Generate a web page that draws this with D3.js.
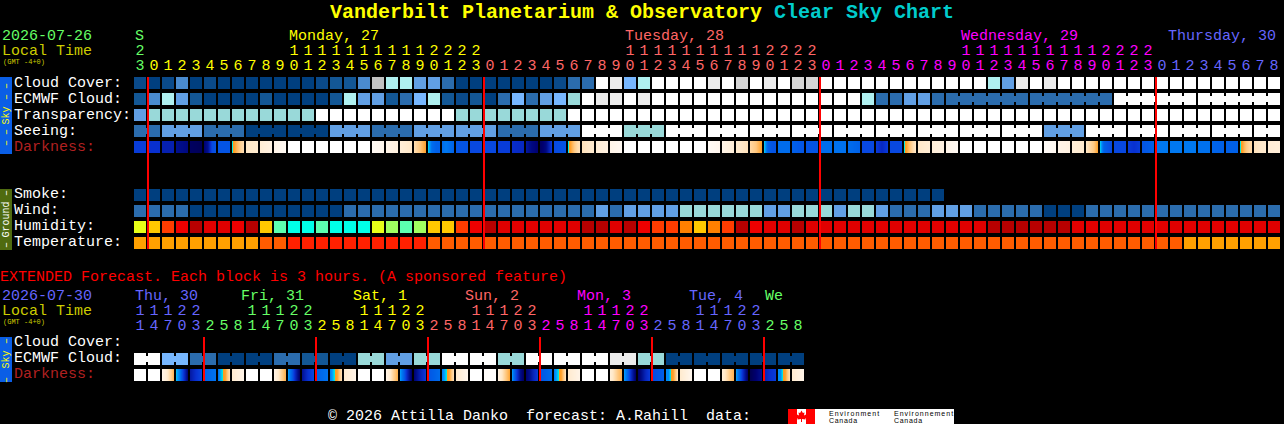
<!DOCTYPE html>
<html><head><meta charset="utf-8">
<script src="https://cdn.jsdelivr.net/npm/d3@7/dist/d3.min.js"></script>
<style>
html,body{margin:0;padding:0;background:#000;overflow:hidden}
svg{display:block}
text{font-family:"Liberation Mono",monospace;font-size:15px;white-space:pre}
rect{shape-rendering:crispEdges}
</style></head><body>
<script>
// ---------- categories and tick labels ----------
const skyRows = ["Cloud Cover:","ECMWF Cloud:","Transparency:","Seeing:","Darkness:"];
const groundRows = ["Smoke:","Wind:","Humidity:","Temperature:"];
const extRows = ["Cloud Cover:","ECMWF Cloud:","Darkness:"];
const hours = [23,0,1,2,3,4,5,6,7,8,9,10,11,12,13,14,15,16,17,18,19,20,21,22,23,
  0,1,2,3,4,5,6,7,8,9,10,11,12,13,14,15,16,17,18,19,20,21,22,23,
  0,1,2,3,4,5,6,7,8,9,10,11,12,13,14,15,16,17,18,19,20,21,22,23,
  0,1,2,3,4,5,6,7,8];
const dayNames = ["S","Monday, 27","Tuesday, 28","Wednesday, 29","Thursday, 30"];
const dayNameCols = [0,11,35,59,73.79];
const extHours = [11,14,17,20,23,2,5,8,11,14,17,20,23,2,5,8,11,14,17,20,23,2,5,8,11,14,17,20,23,2,5,8,11,14,17,20,23,2,5,8,11,14,17,20,23,2,5,8];
const extDayNames = ["Thu, 30","Fri, 31","Sat, 1","Sun, 2","Mon, 3","Tue, 4","We"];
const extDayCols = [0,7.57,15.57,23.57,31.57,39.57,45];

// ---------- series (cloud-style percent levels) ----------
const cloud = [95,100,95,70,100,95,100,100,100,100,100,100,100,95,90,90,70,20,30,30,60,
  60,80,100,100,100,100,100,100,100,95,80,80,0,10,50,30,0,0,0,0,10,0,15,0,10,0,15,15,0,0,0,
  0,0,0,0,0,0,0,0,0,30,60,10,0,10,0,0,0,0,0,0,0,0,0,0,0,0,0,0,0,0];
const ecmwf = [90,70,30,60,90,100,100,100,100,90,100,100,100,100,90,30,60,60,90,80,50,
  30,90,95,90,100,80,50,80,60,50,40,0,10,10,0,10,0,0,0,0,0,0,0,0,0,0,0,0,0,0,0,
  30,80,80,60,60,80,80,80,80,80,80,80,80,80,80,80,80,80,0,0,0,0,0,0,0,0,0,0,0,0];
const transparency = [60,40,40,40,40,40,40,40,40,40,40,40,40,0,0,0,0,0,0,0,0,0,0,
  40,40,40,40,40,40,40,40,0,0,0,0,0,0,0,0,0,0,0,0,0,0,0,0,0,0,0,0,0,0,0,0,0,0,0,0,0,0,
  0,0,0,0,0,0,0,0,0,0,0,0,0,0,0,0,0,0,0,0,0];
const seeing = [80,80,60,60,60,80,80,80,100,100,100,100,100,100,60,60,60,80,80,80,60,60,60,
  60,60,60,80,80,80,60,60,60,0,0,0,40,40,40,0,0,0,0,0,0,0,0,0,0,0,0,0,0,0,0,0,0,0,0,0,0,0,0,0,0,0,
  60,60,60,0,0,0,0,0,0,0,0,0,0,0,0,0,0];
// darkness: each block lists its values left to right (0 bright day ... 13 darkest night)
const darkness = [[8.5,8.5],[9,9],[10,10],[11,11.5],[12.5,12.8],[12,11,8,7.5],[7.5,7.5],[4.1,3.9,3.4,3,2.6,2.3],
  [2,1.8],[1.6,1.2],[1,0.5],[0,0],[0,0],[0,0],[0,0],[0,0],[0,0],[0.5,0.8],[1,1.3],[1.5,2],[2.3,3,3.9],
  [4.2,6.5,7,7],[6.5,6,6.5,7],[7.5,7.5],[8,8],[8,8],[8.5,8.5],[9.2,9.5],[10.5,11.5,12],[12.5,11.5,8.5],[8,7.5],
  [4.1,3.9,3.3,2.8,2.4,2.2],[2.2,1.8],[1.6,1.2],[1,0.6],[0,0],[0,0],[0,0],[0,0],[0,0],[0,0],[0.4,0.8],[1,1.5],[1.8,2.2],[2.5,3,3.9],
  [4.2,7,7.5,7.5],[6.5,6.5],[7,7.5],[7.5,7.5],[6.5,6.5],[6.3,6.3],[6.5,7],[8,8],[8.5,9.5,8.5],[8,8],
  [4.1,3.9,3.3,2.8,2.3,2],[2,1.6],[1.5,1.2],[1,0.5],[0,0],[0,0],[0,0],[0,0],[0,0],[0,0],[0.3,0.6],[1,1.2],[1.5,1.8],[2,2.5,3,3.9],
  [4.2,7,7.5,8],[8,8],[8.5,9,8.5],[7.5,7],[6,6],[6,6],[6,6],[6.3,6.3],[6.8,7],[7,7],[4.1,3.9,3.3,2.9,2.6,2.5],[2.2,1.8],[1.6,1.5]];
const smoke = [100,100,100,100,100,100,100,100,100,100,100,100,100,100,100,100,100,100,100,100,100,100,100,100,100,100,100,100,100,100,
  100,100,100,100,100,100,100,100,100,100,100,100,100,100,100,100,100,100,100,100,100,100,100,100,100,100,100,100];
const wind = [80,80,80,80,100,100,100,100,100,100,100,100,100,100,100,80,80,80,80,80,80,80,80,80,80,80,80,80,80,80,80,80,80,
  60,80,60,60,60,60,40,40,40,40,40,40,60,60,40,40,40,60,40,40,60,80,80,80,60,60,60,80,80,80,80,80,100,100,100,
  80,80,80,80,80,80,80,80,80,80,80,80,80,80];
const humidity = [70,75,85,90,100,95,95,90,100,75,60,55,55,60,55,55,55,70,65,60,65,
  75,75,85,90,100,95,95,95,95,95,95,100,100,95,100,90,85,85,80,75,80,85,100,90,95,95,100,95,95,95,95,
  95,95,95,95,95,95,95,95,95,100,100,100,100,100,100,95,95,95,95,95,95,95,95,95,95,95,95,95,95,95];
const temperature = [73,73,73,73,73,73,73,73,73,77,77,82,82,82,82,82,82,82,82,82,82,
  77,77,77,77,77,77,77,77,77,77,77,77,77,77,77,77,77,77,77,77,77,77,77,77,77,77,77,77,77,77,77,
  77,77,77,77,77,77,77,77,77,77,77,77,77,77,77,77,77,77,77,77,77,77,77,73,73,73,73,73,73,73];
const extEcmwf = [0,0,50,50,80,80,100,100,100,100,80,80,90,90,100,100,40,40,60,60,40,40,0,0,
  0,0,40,40,0,0,0,0,0,0,10,10,40,40,100,100,100,100,100,100,100,100,100,100];
const extDarkness = [[0,0],[0,0],[1,1.5,2.5,3.5],[4.5,6,9,12],[10.5,9,8],[7,6.2],[6.5,5,4.02,3.9,3,2.2],[1.8,1],
  [0,0],[0,0],[1,1.8,2.8,3.6],[5,7,10,12.5],[11,9,8],[7,6.2],[6,5,4.02,3.9,3,2.2],[1.8,1],
  [0,0],[0,0],[1,1.8,2.8,3.6],[5,7,10,12.5],[12,10,8.5],[7.5,6.5],[6,5,4.02,3.9,3,2.2],[1.8,0.8],
  [0,0],[0.3,0.1],[1.2,2,3,3.8],[5,8,11,12.5],[12,11,9.5,8.5],[7.5,7,6.5],[6,5,4.02,3.9,3,2],[1.8,1],
  [0,0],[0,0],[1.5,2.2,3,3.5],[5,7,10,12.5],[12.5,11,9.5,8.5],[8,7.5,7],[5.5,5.5,4.02,3.9,3,2],[1.8,0.8],
  [0,0],[0,0],[1.5,2.2,3,3.5],[5,7,10,12.5],[13,12,11],[10,9,8.5],[5.5,5.5,4.02,3.9,3,2.2],[1.8,1]];

// ---------- colours ----------
const levelColor = d3.scaleOrdinal()
  .domain([100,95,90,80,70,60,50,40,30,20,15,10,0])
  .range(["#003f7f","#0a4a8a","#135795","#2b6cad","#4a8bcf","#619fe4","#77b7ff","#99d9d9","#aff0f0","#c2c2c2","#d6d6d6","#ebebeb","#ffffff"]);
const humidityColor = d3.scaleOrdinal()
  .domain([55,60,65,70,75,80,85,90,95,100])
  .range(["#00ffe8","#5cffb0","#a0ff60","#e8ff18","#ffc800","#ff8000","#ff3c00","#ee0000","#e00000","#b80000"]);
const temperatureColor = d3.scaleOrdinal().domain([73,77,82]).range(["#ffa000","#ff5c00","#ff2000"]);
const darkColor = d3.scaleLinear()
  .domain([0,1,2,3,3.99,4,5,6,7,8,9,10,11,12,13])
  .range(["#ffffff","#fff4e8","#ffe8c8","#ffc880","#ff9c20","#00f0e0","#00a0ff","#0078f0","#0060e8","#0848e0","#0830d0","#0620b0","#00108f","#000070","#000050"])
  .clamp(true);
const dayColors = ["#66ff66","#ffff00","#ff6666","#ff00ff","#6666ff"];
const extDayColors = ["#6666ff","#66ff66","#ffff00","#ff6666","#ff00ff","#6666ff","#66ff66"];
const localColor = "#cccc00", brown = "#b02020";

// ---------- scales ----------
const x = d3.scaleBand().domain(d3.range(hours.length)).range([134,134+hours.length*14-2]).paddingInner(2/14);
const xExt = d3.scaleBand().domain(d3.range(extHours.length)).range([134,134+extHours.length*14-2]).paddingInner(2/14);
const ySky = d3.scaleBand().domain(skyRows).range([77,77+skyRows.length*16-4]).paddingInner(4/16);
const yGround = d3.scaleBand().domain(groundRows).range([189,189+groundRows.length*16-4]).paddingInner(4/16);
const yExt = d3.scaleBand().domain(extRows).range([337,337+extRows.length*16-4]).paddingInner(4/16);

const svg = d3.select("body").append("svg").attr("width",1284).attr("height",424);
svg.append("rect").attr("width",1284).attr("height",424).attr("fill","#000");
const defs = svg.append("defs");
const T = (s,px,py,fill,o={})=>{
  const t = svg.append("text").attr("x",px).attr("y",py).attr("fill",fill).text(s);
  if(o.size) t.style("font-size",o.size+"px");
  if(o.bold) t.style("font-weight","bold");
  if(o.anchor) t.attr("text-anchor",o.anchor);
  if(o.rot) t.attr("transform",`rotate(-90 ${px} ${py})`);
  return t;
};

// ---------- blocks ----------
function blocks(values,xs,y,colorOf,groupOf){
  const g = svg.append("g");
  g.selectAll("rect.b").data(values).join("rect").attr("class","b")
    .attr("x",(d,i)=>xs(i)).attr("y",y).attr("width",xs.bandwidth()).attr("height",12)
    .attr("fill",d=>colorOf(d));
  if(groupOf){
    values.forEach((d,i)=>{
      if(i+1<values.length && d===values[i+1] && groupOf(i)!==null && groupOf(i)===groupOf(i+1))
        g.append("rect").attr("x",xs(i)+xs.bandwidth()).attr("y",y+3).attr("width",2).attr("height",6).attr("fill",colorOf(d));
    });
  }
}
let gid=0;
function darkBlocks(values,xs,y){
  const g = svg.append("g");
  g.selectAll("rect").data(values).join("rect")
    .attr("x",(d,i)=>xs(i)).attr("y",y).attr("width",xs.bandwidth()).attr("height",12)
    .attr("fill",d=>{
      const id="dk"+(gid++), lg=defs.append("linearGradient").attr("id",id);
      const f=d3.piecewise(d3.interpolateNumber,d);
      d3.range(12).forEach(p=>{
        const t=(p+0.5)/12;
        lg.append("stop").attr("offset",t).attr("stop-color",darkColor(f(t)));
      });
      return `url(#${id})`;
    });
}
const lvl = d=>levelColor(d);
blocks(cloud,x,ySky(skyRows[0]),lvl);
blocks(ecmwf,x,ySky(skyRows[1]),lvl,i=>i>=58?Math.floor((i-58)/6):null);
blocks(transparency,x,ySky(skyRows[2]),lvl);
blocks(seeing,x,ySky(skyRows[3]),lvl,i=>Math.floor((i+1)/3));
darkBlocks(darkness,x,ySky(skyRows[4]));
blocks(smoke,x,yGround(groundRows[0]),lvl);
blocks(wind,x,yGround(groundRows[1]),lvl);
blocks(humidity,x,yGround(groundRows[2]),d=>humidityColor(d));
blocks(temperature,x,yGround(groundRows[3]),d=>temperatureColor(d));
blocks(extEcmwf,xExt,yExt(extRows[1]),lvl,i=>Math.floor(i/2));
darkBlocks(extDarkness,xExt,yExt(extRows[2]));

// ---------- midnight lines ----------
hours.forEach((h,i)=>{ if(h===0)
  svg.append("rect").attr("x",x(i)-1).attr("y",77).attr("width",2).attr("height",yGround.range()[1]-77).attr("fill","#ff0000"); });
extHours.forEach((h,i)=>{ if(i>0 && h<extHours[i-1])
  svg.append("rect").attr("x",xExt(i)-1).attr("y",337).attr("width",2).attr("height",yExt.range()[1]-337).attr("fill","#ff0000"); });

// ---------- titles ----------
T("Vanderbilt Planetarium & Observatory ",330,18,"#ffff00",{size:20,bold:true});
T("Clear Sky Chart",774,18,"#00cccc",{size:20,bold:true});

// ---------- main time header ----------
T("2026-07-26",2,40,"#66ff66");
T("Local Time",2,55,localColor);
T("(GMT -4+0)",3,64,localColor,{size:7});
dayNames.forEach((n,i)=>T(n,x.step()*dayNameCols[i]+135,40,dayColors[i]));
let day=0;
hours.forEach((h,i)=>{
  if(h===0) day++;
  const cx=x(i)+x.bandwidth()/2;
  if(h>=10) T(String(Math.floor(h/10)),cx,55,dayColors[day],{anchor:"middle"});
  T(String(h%10),cx,70,dayColors[day],{anchor:"middle"});
});

// ---------- row labels ----------
skyRows.forEach(r=>T(r,14,ySky(r)+10,r==="Darkness:"?brown:"#fff"));
groundRows.forEach(r=>T(r,14,yGround(r)+9,"#fff"));
extRows.forEach(r=>T(r,14,yExt(r)+9,r==="Darkness:"?brown:"#fff"));

// ---------- side bars ----------
function sideBar(y0,y1,fill,ink,word,dashes){
  svg.append("rect").attr("x",0).attr("y",y0).attr("width",12).attr("height",y1-y0).attr("fill",fill);
  const mid=(y0+y1)/2;
  T(word,9,mid,ink,{size:10,rot:true,anchor:"middle"});
  dashes.forEach(d=>T("\u2013",9,y0+d,ink,{size:10,rot:true,anchor:"middle"}));
}
sideBar(77,154,"#0a5ee6","#ffff00","Sky",[9,20,55,66]);
sideBar(189,250,"#4f6b10","#ffffff","Ground",[4,56]);
sideBar(337,382,"#0a5ee6","#ffff00","Sky",[4,43]);

// ---------- extended section ----------
T("EXTENDED Forecast. Each block is 3 hours. (A sponsored feature)",0,281,"#ff0000");
T("2026-07-30",2,300,"#6666ff");
T("Local Time",2,315,localColor);
T("(GMT -4+0)",3,324,localColor,{size:7});
extDayNames.forEach((n,i)=>T(n,xExt.step()*extDayCols[i]+135,300,extDayColors[i]));
let eday=0;
extHours.forEach((h,i)=>{
  if(i>0 && h<extHours[i-1]) eday++;
  const cx=xExt(i)+xExt.bandwidth()/2;
  if(h>=10) T(String(Math.floor(h/10)),cx,315,extDayColors[eday],{anchor:"middle"});
  T(String(h%10),cx,330,extDayColors[eday],{anchor:"middle"});
});

// ---------- footer ----------
T("\u00a9 2026 Attilla Danko  forecast: A.Rahill  data:",328,420,"#fff");
svg.append("rect").attr("x",788).attr("y",409).attr("width",166).attr("height",15).attr("fill","#fff");
svg.append("rect").attr("x",788).attr("y",409).attr("width",9).attr("height",15).attr("fill","#ff0000");
svg.append("rect").attr("x",806).attr("y",409).attr("width",9).attr("height",15).attr("fill","#ff0000");
svg.append("path").attr("transform","translate(801.5,416.5)")
  .attr("d","M0,-6L1.4,-3.5L3,-4L2.5,-1L4.5,-2L5,-0.5L6,0L4,2L4,3L0.5,2.6L0.5,5.5L-0.5,5.5L-0.5,2.6L-4,3L-4,2L-6,0L-5,-0.5L-4.5,-2L-2.5,-1L-3,-4L-1.4,-3.5Z")
  .attr("fill","#ff0000");
const sans = "'Liberation Sans'";
T("Environment",829,415.5,"#000",{size:7}).style("font-family",sans).style("letter-spacing","1.1px");
T("Environnement",894,415.5,"#000",{size:7}).style("font-family",sans).style("letter-spacing","1px");
[829,894].forEach(px=>T("Canada",px,423,"#000",{size:7}).style("font-family",sans).style("letter-spacing","0.7px"));
</script>
</body></html>
